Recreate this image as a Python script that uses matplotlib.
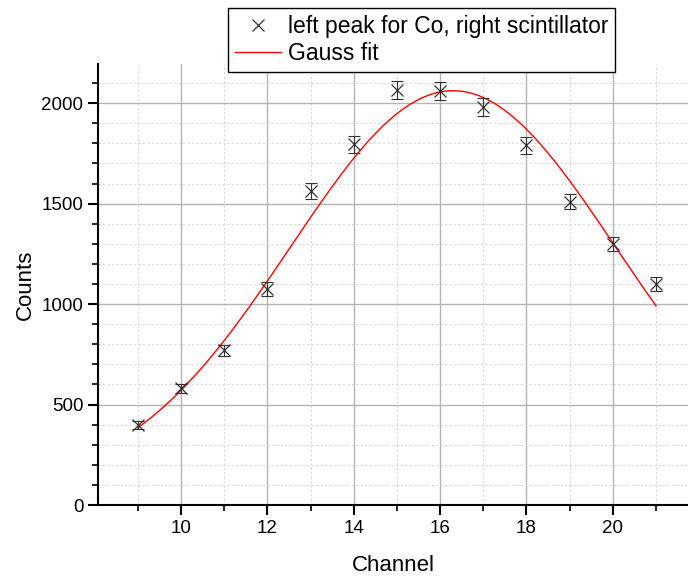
import numpy as np
import matplotlib
matplotlib.use("Agg")
from matplotlib import pyplot as plt
from matplotlib.ticker import MultipleLocator

plt.rcParams['font.family'] = ['Liberation Sans', 'DejaVu Sans']

# measured points
channel = [9, 10, 11, 12, 13, 14, 15, 16, 17, 18, 19, 20, 21]
counts = [397, 580, 770, 1075, 1565, 1795, 2065, 2060, 1980, 1790, 1510, 1300, 1100]
count_err = [20, 24, 28, 33, 40, 42, 45, 45, 44, 42, 39, 36, 33]

# gauss fit parameters (y0 + A*exp(-(x-xc)^2 / (2 s^2)))
fit_y0 = 80.0
fit_A = 1982.0
fit_xc = 16.3
fit_sigma = 3.77
fit_range = (9, 21)

fig = plt.figure(figsize=(6.88, 5.79), dpi=100)
ax = fig.add_axes([98 / 688, 1 - 505 / 579, 1 - 98 / 688, (505 - 64) / 579])

ax.errorbar(channel, counts, yerr=count_err, fmt='none', ecolor='#333333',
            elinewidth=0.8, capsize=4.3, capthick=0.8, zorder=3)
pts, = ax.plot(channel, counts, 'x', color='#333333', markersize=9,
               markeredgewidth=0.9, zorder=4,
               label='left peak for Co, right scintillator')

xf = np.linspace(fit_range[0], fit_range[1], 300)
yf = fit_y0 + fit_A * np.exp(-(xf - fit_xc) ** 2 / (2 * fit_sigma ** 2))
fit, = ax.plot(xf, yf, color='red', lw=1.0, label='Gauss fit', zorder=2)

ax.set_xlim(8.08, 21.74)
ax.set_ylim(0, 2195)
ax.xaxis.set_major_locator(MultipleLocator(2))
ax.xaxis.set_minor_locator(MultipleLocator(1))
ax.yaxis.set_major_locator(MultipleLocator(500))
ax.yaxis.set_minor_locator(MultipleLocator(100))

ax.grid(which='major', color='#b4b4b4', lw=1.0, ls='-')
ax.grid(which='minor', color='#d8d8d8', lw=0.8, ls=(0, (2, 2)))
ax.set_axisbelow(True)

for s in ['top', 'right']:
    ax.spines[s].set_visible(False)
for s in ['left', 'bottom']:
    ax.spines[s].set_linewidth(1.5)

ax.tick_params(which='major', direction='out', length=7, width=1.5, labelsize=13.5)
ax.tick_params(which='minor', direction='out', length=4, width=1.2)

ax.set_xlabel('Channel', fontsize=16, labelpad=13)
ax.set_ylabel('Counts', fontsize=16, labelpad=4)

leg = fig.legend(handles=[pts, fit], loc='upper left',
                 bbox_to_anchor=(228 / 688, 1 - 8 / 579),
                 borderaxespad=0, fontsize=16.5, frameon=True, fancybox=False,
                 framealpha=1, edgecolor='black', handlelength=2.0,
                 borderpad=0.3, labelspacing=0.2, handletextpad=0.3)
leg.get_frame().set_linewidth(1.0)

fig.savefig('out.png', dpi=100)
